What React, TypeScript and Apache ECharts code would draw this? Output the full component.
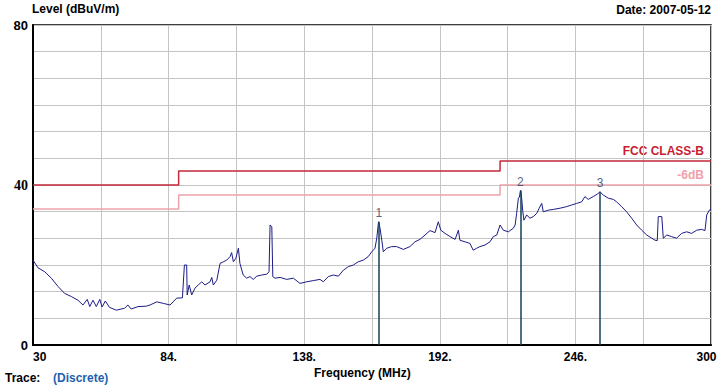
import React, { useEffect, useRef } from "react";
import * as echarts from "echarts";

// Measured trace (frequency in MHz, level in dBuV/m)
const freqMHz = [
  30.0, 32.0, 34.7, 37.3, 40.0, 42.6, 45.3, 47.9, 49.9, 51.6, 52.6, 53.9, 55.2, 56.6, 57.5, 58.8,
  60.5, 63.2, 66.5, 67.8, 69.1, 71.8, 75.1, 76.6, 79.3, 81.9, 84.6, 87.2, 89.5, 90.3, 91.2, 91.4,
  92.2, 93.2, 94.5, 95.8, 97.2, 98.5, 100.5, 101.2, 101.8, 103.2, 104.5, 105.8, 107.1, 108.5, 109.1,
  109.8, 110.8, 111.8, 112.4, 113.7, 115.1, 116.4, 117.7, 119.1, 121.1, 123.1, 124.0, 124.4, 125.1,
  125.5, 126.4, 128.4, 131.0, 133.7, 136.3, 139.0, 141.6, 144.3, 145.6, 147.6, 149.6, 151.6, 153.6,
  155.6, 157.6, 159.5, 161.5, 163.5, 164.9, 166.2, 166.9, 167.6, 168.2, 168.9, 169.5, 170.9, 172.8,
  174.8, 177.5, 180.1, 182.1, 184.1, 186.1, 188.1, 190.1, 191.4, 192.4, 194.1, 196.1, 198.1, 199.4,
  200.0, 202.0, 204.0, 205.3, 206.7, 208.0, 210.0, 212.0, 213.3, 214.7, 216.0, 217.3, 219.3, 221.3,
  222.0, 222.6, 223.3, 223.7, 224.1, 224.6, 225.0, 225.5, 226.6, 227.9, 229.2, 230.6, 231.6, 232.6,
  233.2, 235.2, 237.2, 239.9, 242.5, 244.5, 246.5, 248.5, 249.8, 251.1, 253.1, 254.7, 255.8, 257.1,
  259.1, 261.1, 262.4, 264.4, 266.4, 268.4, 270.4, 272.4, 274.4, 276.4, 277.7, 278.6, 279.0, 280.4,
  281.0, 282.4, 284.3, 286.3, 288.3, 290.3, 292.3, 294.3, 296.3, 297.6, 298.3, 299.3, 300.0,
];
const levelDb = [
  21.2, 19.3, 18.3, 16.7, 14.6, 12.9, 12.1, 11.2, 10.0, 11.4, 9.6, 11.2, 9.6, 11.4, 9.5, 11.0,
  9.4, 8.7, 9.2, 10.0, 9.0, 9.6, 9.7, 10.0, 10.8, 10.4, 10.0, 11.7, 11.8, 20.0, 20.0, 12.5,
  15.0, 12.5, 14.2, 15.0, 15.8, 15.0, 15.8, 16.9, 15.0, 16.2, 20.4, 20.8, 21.2, 22.1, 23.1,
  20.8, 21.7, 24.2, 20.4, 17.5, 16.7, 17.1, 16.4, 17.2, 17.5, 17.7, 18.3, 30.0, 29.6,
  17.1, 16.7, 16.9, 16.4, 16.7, 15.4, 15.8, 16.1, 16.4, 15.8, 17.1, 17.5, 17.2, 18.7,
  19.6, 20.0, 20.8, 21.2, 22.1, 23.3, 24.2, 26.7, 30.8, 29.2, 26.2, 23.3, 24.2, 24.6,
  24.6, 23.9, 24.6, 25.8, 26.4, 27.5, 28.6, 28.1, 30.8, 28.7, 27.9, 27.1, 26.4, 28.7,
  26.2, 25.8, 25.4, 23.7, 24.2, 24.6, 25.0, 25.8, 27.1, 27.5, 30.0, 28.7, 28.3, 29.2,
  30.0, 32.9, 36.7, 37.0, 38.6, 36.7, 33.7, 31.2, 32.5, 31.7, 32.1, 32.9, 34.2, 35.4,
  33.3, 33.7, 33.9, 34.2, 34.6, 35.0, 35.4, 35.8, 37.1, 36.4, 37.1, 37.7, 38.3, 37.5,
  36.7, 36.4, 35.8, 34.6, 33.3, 31.7, 30.0, 28.7, 27.5, 26.7, 26.2, 26.1, 32.1, 32.1,
  26.7, 27.5, 27.1, 26.7, 27.9, 28.3, 27.9, 28.7, 28.9, 28.6, 32.5, 33.7, 34.0,
];

// Limit lines
const fccFreq = [30, 88, 88, 216, 216, 300];
const fccLimit = [40, 40, 43.5, 43.5, 46, 46];
const marginLimit = [34, 34, 37.5, 37.5, 40, 40];

// Peak markers
const markerFreq = [167.7, 224.1, 255.8];
const markerLevel = [30.8, 38.6, 38.3];
const markerNames = ["1", "2", "3"];

// Axis
const xMin = 30;
const xMax = 300;
const xStep = 27;
const yMin = 0;
const yMax = 80;
const yStep = 80 / 12;
const yLabelValues = [0, 40, 80];

const SANS = "Liberation Sans, Arial, sans-serif";

export default function App() {
  const ref = useRef<HTMLDivElement>(null);

  useEffect(() => {
    if (!ref.current) return;
    const chart = echarts.init(ref.current, undefined, { renderer: "svg" });

    const trace = freqMHz.map((f, i) => [f, levelDb[i]]);
    const fcc = fccFreq.map((f, i) => [f, fccLimit[i]]);
    const margin = fccFreq.map((f, i) => [f, marginLimit[i]]);
    const markers = markerFreq.map((f, i) => ({ value: [f, markerLevel[i]], name: markerNames[i] }));

    chart.setOption({
      animation: false,
      backgroundColor: "#ffffff",
      grid: {
        left: 33,
        right: 8,
        top: 25,
        bottom: 40,
        show: true,
        borderColor: "#000",
        borderWidth: 1.5,
        containLabel: false,
        outerBoundsMode: "none",
      },
      xAxis: {
        type: "value",
        min: xMin,
        max: xMax,
        interval: xStep,
        axisLine: { show: true, onZero: false, lineStyle: { color: "#000", width: 2 } },
        axisTick: { show: false },
        splitLine: { show: true, lineStyle: { color: "#c4c4c4", width: 1 } },
        axisLabel: {
          margin: 6,
          color: "#000",
          fontFamily: SANS,
          fontWeight: "bold",
          fontSize: 12,
          alignMinLabel: "left",
          hideOverlap: false,
          formatter: (v: number) => {
            const k = Math.round((v - xMin) / xStep);
            if (k % 2 !== 0) return "";
            if (v === xMax) return "{m|" + v + "}";
            if (v === xMin) return String(v);
            return v + ".";
          },
          rich: {
            m: { fontFamily: SANS, fontWeight: "bold", fontSize: 12, color: "#000", padding: [0, 9, 0, 0] },
          },
        },
      },
      yAxis: {
        type: "value",
        min: yMin,
        max: yMax,
        interval: yStep,
        axisLine: { show: true, lineStyle: { color: "#000", width: 2 } },
        axisTick: { show: false },
        splitLine: { show: true, lineStyle: { color: "#c4c4c4", width: 1 } },
        axisLabel: {
          margin: 5,
          color: "#000",
          fontFamily: SANS,
          fontWeight: "bold",
          fontSize: 13,
          formatter: (v: number) => {
            const r = Math.round(v);
            if (Math.abs(v - r) > 0.01 || yLabelValues.indexOf(r) < 0) return "";
            if (r === 40) return "{s|40}";
            return String(r);
          },
          rich: {
            s: { fontFamily: "Liberation Serif, Times New Roman, serif", fontWeight: "bold", fontSize: 14, color: "#000" },
          },
        },
      },
      series: [
        {
          type: "line",
          data: fcc,
          symbol: "none",
          silent: true,
          lineStyle: { color: "#c4283a", width: 1.5 },
          z: 3,
        },
        {
          type: "line",
          data: margin,
          symbol: "none",
          silent: true,
          lineStyle: { color: "#eba2aa", width: 1.5 },
          z: 3,
        },
        {
          type: "line",
          data: trace,
          symbol: "none",
          silent: true,
          lineStyle: { color: "#1c1c86", width: 1 },
          z: 4,
          markLine: {
            silent: true,
            symbol: ["none", "none"],
            label: { show: false },
            lineStyle: { color: "#12405a", width: 1.5, type: "solid" },
            data: markerFreq.map((f, i) => [
              { coord: [f, 0] },
              { coord: [f, markerLevel[i]] },
            ]),
          },
        },
        {
          type: "scatter",
          data: markers,
          symbolSize: 0,
          silent: true,
          z: 5,
          itemStyle: { color: "#2b3a55" },
          label: {
            show: true,
            position: "top",
            distance: 3,
            color: "#2b3a55",
            fontFamily: SANS,
            fontSize: 12,
            formatter: (p: any) => p.name,
          },
        },
      ],
      graphic: [
        {
          type: "text",
          left: 32,
          top: 3,
          style: { text: "Level (dBuV/m)", fill: "#000", font: "bold 12px " + SANS },
        },
        {
          type: "text",
          right: 8,
          top: 4,
          style: { text: "Date: 2007-05-12", fill: "#000", font: "bold 12px " + SANS },
        },
        {
          type: "text",
          right: 15,
          top: 145,
          style: { text: "FCC CLASS-B", fill: "#c81e30", font: "bold 12px " + SANS },
        },
        {
          type: "text",
          right: 15,
          top: 169,
          style: { text: "-6dB", fill: "#f0a0aa", font: "bold 12px " + SANS },
        },
        {
          type: "text",
          left: 314,
          top: 367,
          style: { text: "Frequency (MHz)", fill: "#000", font: "bold 12px " + SANS },
        },
        {
          type: "text",
          left: 5,
          top: 372,
          style: { text: "Trace:", fill: "#000", font: "bold 12px " + SANS },
        },
        {
          type: "text",
          left: 53,
          top: 372,
          style: { text: "(Discrete)", fill: "#1f5fb0", font: "bold 12px " + SANS },
        },
      ],
    });

    return () => chart.dispose();
  }, []);

  return (
    <div
      ref={ref}
      style={{ position: "fixed", left: 0, top: 0, width: 719, height: 385, background: "#fff" }}
    />
  );
}
